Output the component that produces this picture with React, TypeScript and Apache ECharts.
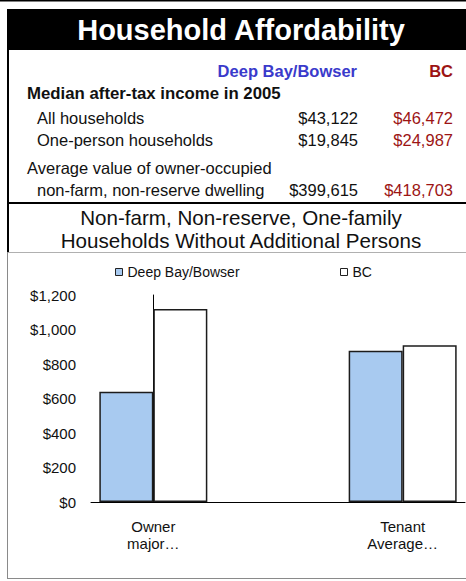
import React, { useEffect, useRef } from "react";
import * as echarts from "echarts";

const categories = ["Owner\nmajor…", "Tenant\nAverage…"];
const deepBayValues = [639, 877];
const bcValues = [1119, 908];
const yTicks = [0, 200, 400, 600, 800, 1000, 1200];

const tableHeaders = ["Deep Bay/Bowser", "BC"];
const incomeHeading = "Median after-tax income in 2005";
const incomeLabels = ["All households", "One-person households"];
const incomeDeepBay = ["$43,122", "$19,845"];
const incomeBC = ["$46,472", "$24,987"];
const dwellingLabels = ["Average value of owner-occupied", "non-farm, non-reserve dwelling"];
const dwellingDeepBay = "$399,615";
const dwellingBC = "$418,703";
const titleText = "Household Affordability";
const subtitleLines = ["Non-farm, Non-reserve, One-family", "Households Without Additional Persons"];

const FONT = "'Liberation Sans', Arial, sans-serif";
const BLUE_TXT = "#3a3acb";
const RED_TXT = "#9c1414";
const BAR_BLUE = "#a8caf0";

function txt(text: string, x: number, y: number, opts: any = {}) {
  const align = opts.align || "left";
  return {
    type: "text",
    silent: true,
    style: {
      text,
      x,
      y,
      fill: opts.fill || "#111",
      fontSize: opts.size || 16.5,
      fontWeight: opts.weight || "normal",
      fontFamily: FONT,
      align,
      textAlign: align,
      verticalAlign: "middle",
      textVerticalAlign: "middle",
    },
  };
}

export default function App() {
  const ref = useRef<HTMLDivElement>(null);

  useEffect(() => {
    if (!ref.current) return;
    const chart = echarts.init(ref.current, null, { renderer: "svg" });

    const graphics: any[] = [
      { type: "rect", silent: true, shape: { x: 0, y: 0, width: 466, height: 1.5 }, style: { fill: "#000" } },
      { type: "rect", silent: true, shape: { x: 7, y: 9, width: 459, height: 41 }, style: { fill: "#000" } },
      { type: "rect", silent: true, shape: { x: 7, y: 9, width: 2, height: 244 }, style: { fill: "#000" } },
      { type: "rect", silent: true, shape: { x: 7, y: 202, width: 459, height: 2 }, style: { fill: "#000" } },
      { type: "line", silent: true, shape: { x1: 7, y1: 252.5, x2: 466, y2: 252.5 }, style: { stroke: "#b0b0b0", lineWidth: 1 } },
      { type: "line", silent: true, shape: { x1: 7.5, y1: 252, x2: 7.5, y2: 579 }, style: { stroke: "#8a8a8a", lineWidth: 1 } },
      { type: "line", silent: true, shape: { x1: 7, y1: 578.5, x2: 466, y2: 578.5 }, style: { stroke: "#8a8a8a", lineWidth: 1 } },
      txt(titleText, 241, 30, { fill: "#fff", size: 29, weight: "bold", align: "center" }),
      txt(tableHeaders[0], 357, 71, { fill: BLUE_TXT, weight: "bold", align: "right" }),
      txt(tableHeaders[1], 453, 71, { fill: RED_TXT, weight: "bold", align: "right" }),
      txt(incomeHeading, 27, 93, { weight: "bold", size: 16.8 }),
    ];
    const incomeY = [118, 140];
    incomeLabels.forEach((l, i) => {
      graphics.push(txt(l, 37, incomeY[i]));
      graphics.push(txt(incomeDeepBay[i], 358, incomeY[i], { align: "right" }));
      graphics.push(txt(incomeBC[i], 453, incomeY[i], { align: "right", fill: RED_TXT }));
    });
    graphics.push(txt(dwellingLabels[0], 27, 168));
    graphics.push(txt(dwellingLabels[1], 37, 190));
    graphics.push(txt(dwellingDeepBay, 358, 190, { align: "right" }));
    graphics.push(txt(dwellingBC, 453, 190, { align: "right", fill: RED_TXT }));
    graphics.push(txt(subtitleLines[0], 241, 217, { size: 20.6, align: "center" }));
    graphics.push(txt(subtitleLines[1], 241, 240, { size: 20.6, align: "center" }));

    const barBorder = { borderColor: "#1c1c1c", borderWidth: 1.5 };

    chart.setOption({
      animation: false,
      textStyle: { fontFamily: FONT },
      graphic: { elements: graphics },
      legend: [
        {
          left: 110,
          top: 260,
          data: ["Deep Bay/Bowser"],
          icon: "rect",
          itemWidth: 7,
          itemHeight: 7,
          itemStyle: { borderColor: "#222", borderWidth: 1 },
          textStyle: { fontSize: 14, color: "#111", fontFamily: FONT },
          selectedMode: false,
        },
        {
          left: 335,
          top: 260,
          data: ["BC"],
          icon: "rect",
          itemWidth: 7,
          itemHeight: 7,
          itemStyle: { borderColor: "#222", borderWidth: 1 },
          textStyle: { fontSize: 14, color: "#111", fontFamily: FONT },
          selectedMode: false,
        },
      ],
      grid: { left: 91, right: 1, top: 295, bottom: 79, containLabel: false },
      xAxis: {
        type: "value",
        min: -0.25,
        max: 1.25,
        interval: 0.25,
        axisLine: { show: true, lineStyle: { color: "#000", width: 1 } },
        axisTick: { show: false },
        splitLine: { show: false },
        axisLabel: {
          margin: 16,
          fontSize: 15,
          lineHeight: 17,
          color: "#111",
          fontFamily: FONT,
          showMinLabel: false,
          showMaxLabel: false,
          formatter: (v: number) => {
            const r = Math.round(v);
            return Math.abs(v - r) < 1e-6 && r >= 0 && r < categories.length ? categories[r] : "";
          },
        },
      },
      yAxis: {
        type: "value",
        min: yTicks[0],
        max: yTicks[yTicks.length - 1],
        interval: yTicks[1] - yTicks[0],
        axisLine: { show: true, lineStyle: { color: "#000", width: 1 } },
        axisTick: { show: false },
        splitLine: { show: false },
        axisLabel: {
          margin: 15,
          fontSize: 15,
          color: "#111",
          fontFamily: FONT,
          formatter: (v: number) => "$" + v.toLocaleString("en-US"),
        },
      },
      series: [
        {
          name: "Deep Bay/Bowser",
          type: "bar",
          barWidth: 54,
          barGap: "0%",
          itemStyle: { color: BAR_BLUE, ...barBorder },
          data: deepBayValues.map((v, i) => [i, v]),
        },
        {
          name: "BC",
          type: "bar",
          barWidth: 54,
          barGap: "0%",
          itemStyle: { color: "#ffffff", ...barBorder },
          data: bcValues.map((v, i) => [i, v]),
        },
      ],
    });

    return () => chart.dispose();
  }, []);

  return (
    <div
      ref={ref}
      style={{ position: "absolute", left: 0, top: 0, width: 466, height: 581, background: "#fff" }}
    />
  );
}
